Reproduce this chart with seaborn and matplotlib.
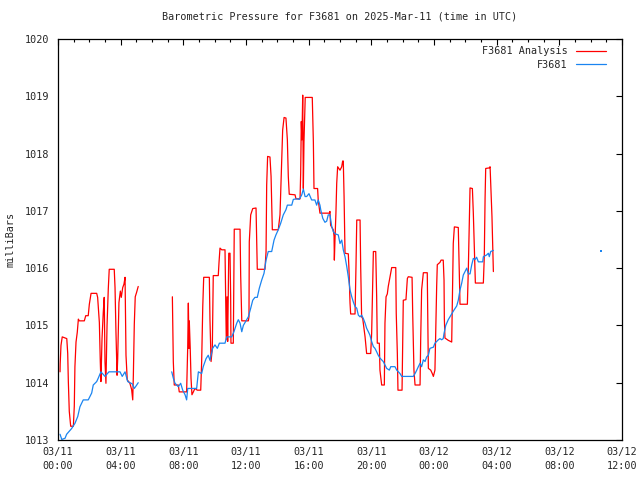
import numpy as np
import pandas as pd
import seaborn as sns
import matplotlib
matplotlib.use("Agg")
import matplotlib.pyplot as plt
from matplotlib.lines import Line2D
from matplotlib.ticker import MultipleLocator

# heures depuis 03/11 00:00 UTC, pression en mbar
analysis_h_1 = [0.13, 0.14, 0.19, 0.27, 0.56, 0.62, 0.66, 0.72, 0.81, 0.98, 1.04, 1.08, 1.15, 1.23,
                1.30, 1.36, 1.68, 1.77, 1.93, 2.00, 2.11, 2.47, 2.53, 2.64, 2.70, 2.74, 2.81, 2.89,
                2.95, 3.00, 3.06, 3.13, 3.21, 3.27, 3.59, 3.64, 3.70, 3.77, 3.81, 3.89, 3.98, 4.04,
                4.13, 4.21, 4.28, 4.34, 4.42, 4.59, 4.70, 4.77, 4.81, 4.87, 4.93, 5.02, 5.12]
analysis_p_1 = [1014.19, 1014.33, 1014.65, 1014.80, 1014.77, 1014.51, 1014.02, 1013.50, 1013.24, 1013.24,
                1013.59, 1014.28, 1014.71, 1014.88, 1015.11, 1015.08, 1015.08, 1015.17, 1015.17, 1015.37,
                1015.56, 1015.56, 1015.49, 1015.05, 1014.36, 1014.02, 1014.77, 1015.23, 1015.49, 1014.36,
                1013.99, 1015.00, 1015.64, 1015.98, 1015.98, 1015.66, 1014.88, 1014.13, 1014.42, 1015.40,
                1015.60, 1015.49, 1015.66, 1015.72, 1015.84, 1014.48, 1014.05, 1013.99, 1013.88, 1013.70,
                1014.13, 1015.02, 1015.50, 1015.58, 1015.68]

analysis_h_2 = [7.30, 7.32, 7.36, 7.42, 7.68, 7.74, 8.21, 8.28, 8.32, 8.36, 8.38, 8.44, 8.49, 8.55,
                8.64, 8.74, 8.89, 9.11, 9.17, 9.24, 9.30, 9.66, 9.70, 9.77, 9.85, 9.91, 10.23, 10.28,
                10.34, 10.45, 10.66, 10.70, 10.74, 10.79, 10.83, 10.90, 10.98, 11.02, 11.04, 11.19,
                11.25, 11.62, 11.66, 11.73, 12.15, 12.19, 12.21, 12.30, 12.43, 12.64, 12.68, 12.72,
                13.21, 13.28, 13.32, 13.38, 13.53, 13.60, 13.68, 14.06, 14.17, 14.28, 14.34, 14.43,
                14.55, 14.64, 14.70, 14.76, 15.13, 15.19, 15.45, 15.49, 15.53, 15.57, 15.62, 15.66,
                15.70, 15.78, 16.23, 16.30, 16.34, 16.57, 16.61, 16.72, 17.32, 17.36, 17.40, 17.57,
                17.62, 17.64, 17.68, 17.74, 17.79, 17.85, 18.00, 18.11, 18.17, 18.21, 18.26, 18.32,
                18.53, 18.57, 18.64, 18.68, 18.96, 19.02, 19.07, 19.28, 19.32, 19.38, 19.45, 19.60,
                19.70, 19.96, 20.02, 20.13, 20.28, 20.34, 20.38, 20.51, 20.55, 20.66, 20.83, 20.87,
                20.94, 21.02, 21.08, 21.19, 21.30, 21.56, 21.59, 21.66, 21.70, 21.96, 22.00, 22.04,
                22.21, 22.30, 22.36, 22.60, 22.64, 22.72, 22.79, 23.11, 23.15, 23.21, 23.32, 23.57,
                23.60, 23.64, 23.79, 23.89, 23.96, 24.06, 24.13, 24.17, 24.21, 24.38, 24.45, 24.59,
                24.64, 24.66, 24.70, 24.91, 25.13, 25.15, 25.19, 25.23, 25.30, 25.55, 25.60, 25.66,
                26.13, 26.19, 26.26, 26.30, 26.45, 26.51, 26.58, 26.64, 27.15, 27.21, 27.26, 27.30,
                27.53, 27.58, 27.62, 27.70, 27.75, 27.79]
analysis_p_2 = [1015.50, 1015.12, 1014.37, 1013.96, 1013.96, 1013.84, 1013.84, 1014.63, 1015.39, 1014.60,
                1015.08, 1014.60, 1014.08, 1013.79, 1013.84, 1013.90, 1013.87, 1013.87, 1014.37, 1015.33,
                1015.84, 1015.84, 1015.10, 1014.37, 1014.60, 1015.87, 1015.87, 1016.11, 1016.35, 1016.32,
                1016.32, 1015.50, 1014.75, 1015.50, 1014.72, 1016.26, 1016.26, 1015.50, 1014.69, 1014.69,
                1016.68, 1016.68, 1015.88, 1015.08, 1015.08, 1015.15, 1016.46, 1016.93, 1017.04, 1017.05,
                1016.52, 1015.98, 1015.98, 1016.29, 1017.45, 1017.95, 1017.94, 1017.60, 1016.67, 1016.67,
                1016.93, 1017.92, 1018.41, 1018.63, 1018.62, 1018.24, 1017.60, 1017.29, 1017.28, 1017.21,
                1017.21, 1017.66, 1018.56, 1018.24, 1019.02, 1017.39, 1018.20, 1018.98, 1018.98, 1018.20,
                1017.39, 1017.39, 1017.19, 1016.96, 1016.96, 1016.99, 1016.75, 1016.67, 1016.56, 1016.14,
                1016.50, 1016.96, 1017.48, 1017.77, 1017.71, 1017.77, 1017.87, 1017.87, 1017.25, 1016.26,
                1016.25, 1016.00, 1015.39, 1015.20, 1015.20, 1016.03, 1016.84, 1016.84, 1016.03, 1015.15,
                1015.12, 1014.80, 1014.51, 1014.51, 1014.86, 1016.29, 1016.29, 1015.50, 1014.69, 1014.69,
                1014.22, 1013.96, 1013.96, 1015.04, 1015.50, 1015.55, 1015.68, 1015.85, 1016.01, 1016.01,
                1015.21, 1014.51, 1013.87, 1013.87, 1014.66, 1015.44, 1015.45, 1015.82, 1015.85, 1015.84,
                1015.21, 1014.22, 1013.96, 1013.96, 1014.75, 1015.62, 1015.92, 1015.92, 1015.15, 1014.25,
                1014.22, 1014.16, 1014.11, 1014.22, 1015.15, 1015.68, 1016.06, 1016.10, 1016.14, 1016.14,
                1015.79, 1015.12, 1014.78, 1014.74, 1014.71, 1015.07, 1015.79, 1016.43, 1016.72, 1016.71,
                1016.08, 1015.37, 1015.37, 1015.97, 1016.89, 1017.40, 1017.39, 1016.96, 1016.32, 1015.74,
                1015.74, 1016.20, 1017.22, 1017.74, 1017.75, 1017.77, 1017.48, 1016.90, 1016.35, 1015.94]

station_h_1 = [0.13, 0.24, 0.45, 0.55, 0.87, 1.08, 1.26, 1.40, 1.61, 1.93, 2.15, 2.25, 2.47, 2.57,
               2.74, 3.00, 3.25, 3.96, 4.10, 4.28, 4.45, 4.74, 4.87, 5.00, 5.12]
station_p_1 = [1013.10, 1013.01, 1013.03, 1013.10, 1013.20, 1013.29, 1013.41, 1013.58, 1013.70, 1013.70,
               1013.82, 1013.96, 1014.02, 1014.08, 1014.19, 1014.11, 1014.19, 1014.19, 1014.11, 1014.19,
               1014.02, 1013.98, 1013.90, 1013.95, 1014.00]

station_h_2 = [7.26, 7.36, 7.47, 7.68, 7.83, 7.96, 8.11, 8.21, 8.28, 8.85, 8.96, 9.17, 9.27, 9.45,
               9.59, 9.70, 9.87, 10.02, 10.17, 10.30, 10.66, 10.77, 11.09, 11.23, 11.41, 11.51, 11.62,
               11.73, 11.83, 12.00, 12.15, 12.30, 12.43, 12.57, 12.72, 12.85, 13.00, 13.15, 13.28,
               13.42, 13.64, 13.79, 13.91, 14.06, 14.21, 14.38, 14.55, 14.64, 14.92, 15.02, 15.24,
               15.40, 15.56, 15.66, 15.77, 15.87, 16.02, 16.19, 16.40, 16.51, 16.61, 16.72, 16.77,
               16.90, 17.04, 17.15, 17.25, 17.36, 17.47, 17.57, 17.68, 17.89, 18.00, 18.11, 18.21,
               18.32, 18.43, 18.53, 18.64, 18.75, 18.85, 18.96, 19.07, 19.17, 19.28, 19.38, 19.49,
               19.60, 19.70, 19.81, 19.91, 20.02, 20.13, 20.23, 20.34, 20.44, 20.55, 20.66, 20.76,
               20.87, 20.98, 21.15, 21.24, 21.51, 21.62, 21.83, 21.94, 22.68, 22.79, 22.90, 23.00,
               23.11, 23.21, 23.32, 23.43, 23.53, 23.64, 23.74, 23.96, 24.06, 24.17, 24.28, 24.38,
               24.49, 24.59, 24.64, 24.75, 24.91, 25.13, 25.28, 25.45, 25.55, 25.66, 25.77, 25.87,
               25.98, 26.09, 26.19, 26.30, 26.41, 26.51, 26.62, 26.72, 26.83, 27.11, 27.15, 27.36,
               27.47, 27.53, 27.62, 27.79]
station_p_2 = [1014.19, 1014.08, 1013.99, 1013.93, 1013.99, 1013.87, 1013.79, 1013.70, 1013.90, 1013.90,
               1014.19, 1014.16, 1014.28, 1014.42, 1014.48, 1014.39, 1014.60, 1014.66, 1014.60, 1014.69,
               1014.69, 1014.80, 1014.80, 1014.89, 1015.04, 1015.10, 1015.04, 1014.89, 1015.00, 1015.08,
               1015.15, 1015.30, 1015.44, 1015.49, 1015.49, 1015.65, 1015.79, 1015.91, 1016.14, 1016.29,
               1016.29, 1016.49, 1016.58, 1016.67, 1016.78, 1016.93, 1017.02, 1017.10, 1017.10, 1017.20,
               1017.21, 1017.20, 1017.28, 1017.38, 1017.25, 1017.25, 1017.30, 1017.19, 1017.19, 1017.10,
               1017.19, 1017.10, 1017.02, 1016.87, 1016.80, 1016.82, 1016.93, 1016.93, 1016.73, 1016.64,
               1016.60, 1016.58, 1016.43, 1016.49, 1016.32, 1016.20, 1016.03, 1015.85, 1015.62, 1015.50,
               1015.41, 1015.33, 1015.30, 1015.18, 1015.15, 1015.18, 1015.12, 1015.04, 1014.95, 1014.89,
               1014.83, 1014.72, 1014.63, 1014.60, 1014.54, 1014.48, 1014.43, 1014.40, 1014.37, 1014.31,
               1014.25, 1014.22, 1014.28, 1014.28, 1014.22, 1014.16, 1014.11, 1014.11, 1014.16, 1014.22,
               1014.28, 1014.34, 1014.28, 1014.40, 1014.37, 1014.45, 1014.48, 1014.60, 1014.62, 1014.69,
               1014.72, 1014.75, 1014.77, 1014.75, 1014.77, 1014.86, 1015.00, 1015.10, 1015.20, 1015.27,
               1015.34, 1015.44, 1015.62, 1015.74, 1015.88, 1015.94, 1016.00, 1015.90, 1015.90, 1016.06,
               1016.17, 1016.15, 1016.19, 1016.11, 1016.11, 1016.20, 1016.23, 1016.26, 1016.20, 1016.29,
               1016.31]

station_h_lone = [34.67]
station_p_lone = [1016.30]

tick_hours = [0, 4, 8, 12, 16, 20, 24, 28, 32, 36]
tick_labels = ["03/11\n00:00", "03/11\n04:00", "03/11\n08:00", "03/11\n12:00", "03/11\n16:00",
               "03/11\n20:00", "03/12\n00:00", "03/12\n04:00", "03/12\n08:00", "03/12\n12:00"]

RED = "#ff0000"
BLUE = "#1a84f0"

df_analysis = pd.concat([
    pd.DataFrame({"h": analysis_h_1, "p": analysis_p_1, "seg": 1}),
    pd.DataFrame({"h": analysis_h_2, "p": analysis_p_2, "seg": 2}),
])
df_station = pd.concat([
    pd.DataFrame({"h": station_h_1, "p": station_p_1, "seg": 1}),
    pd.DataFrame({"h": station_h_2, "p": station_p_2, "seg": 2}),
])
df_lone = pd.DataFrame({"h": station_h_lone, "p": station_p_lone})

sns.set_style("white")
plt.rcParams["font.family"] = ["DejaVu Sans Mono"]

fig = plt.figure(figsize=(6.4, 4.8), dpi=100)
ax = fig.add_axes([58 / 640, 40 / 480, 564 / 640, 401 / 480])

sns.lineplot(data=df_analysis, x="h", y="p", units="seg", estimator=None, sort=False,
             color=RED, linewidth=0.9, ax=ax)
sns.lineplot(data=df_station, x="h", y="p", units="seg", estimator=None, sort=False,
             color=BLUE, linewidth=0.9, ax=ax)
sns.scatterplot(data=df_lone, x="h", y="p", color=BLUE, marker="s", s=1.5, linewidth=0, ax=ax)

ax.set_xlim(0, 36)
ax.set_ylim(1013, 1020)
ax.set_xticks(tick_hours)
ax.set_xticklabels(tick_labels, fontsize=7.3, linespacing=1.45)
ax.xaxis.set_minor_locator(MultipleLocator(1))
ax.yaxis.set_major_locator(MultipleLocator(1))
ax.tick_params(axis="y", labelsize=7.3)
ax.tick_params(which="major", direction="in", length=4.5, width=0.8,
               top=True, right=True, color="black", pad=5)
ax.tick_params(which="minor", direction="in", length=2.3, width=0.8,
               top=True, right=True, color="black")
ax.tick_params(axis="y", pad=6)
for s in ax.spines.values():
    s.set_color("black")
    s.set_linewidth(0.9)

ax.set_xlabel("")
ax.set_ylabel("milliBars", fontsize=7.3, labelpad=7)
ax.set_title("Barometric Pressure for F3681 on 2025-Mar-11 (time in UTC)", fontsize=7.3, pad=14)

handles = [Line2D([], [], color=RED, linewidth=0.9),
           Line2D([], [], color=BLUE, linewidth=0.9)]
ax.legend(handles, ["F3681 Analysis", "F3681"], loc="upper right", frameon=False,
          markerfirst=False, fontsize=7.3, handlelength=3.0, handletextpad=0.8,
          labelspacing=0.35, borderaxespad=0.3, bbox_to_anchor=(0.985, 1.0))

fig.savefig("out.png", dpi=100)
